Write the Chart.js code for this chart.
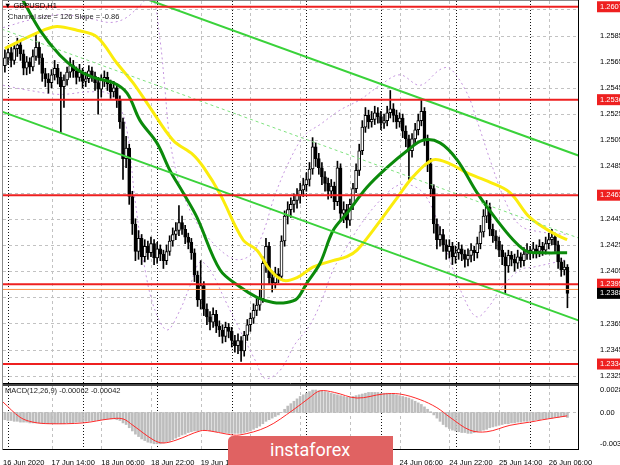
<!DOCTYPE html>
<html>
<head>
<meta charset="utf-8">
<script src="https://cdn.jsdelivr.net/npm/chart.js@4.4.1/dist/chart.umd.min.js"></script>
<style>
html, body { margin: 0; padding: 0; background: #fff; }
#wrap { position: relative; width: 620px; height: 465px; overflow: hidden; font-family: "Liberation Sans", Arial, sans-serif; }
canvas { position: absolute; left: 0; }
#main { top: 0; }
#macd { top: 384px; }
.lbl { position: absolute; font-size: 7.5px; line-height: 9px; color: #000; white-space: nowrap; }
#logo { position: absolute; left: 228px; top: 436px; width: 165px; height: 29px; box-sizing: border-box; padding-left: 42px;
  background: #e06262; border-radius: 5px 0 0 0; color: #fff; font-family: Roboto, sans-serif; font-size: 18px; line-height: 27px; }
</style>
</head>
<body>
<div id="wrap">
  <canvas id="main" width="620" height="384"></canvas>
  <canvas id="macd" width="620" height="81"></canvas>
  <div class="lbl" style="left:4px;top:1px;">▼ GBPUSD,H1</div>
  <div class="lbl" style="left:8px;top:12px;color:#222;">Channel size = 126 Slope = -0.86</div>
  <div class="lbl" style="left:5px;top:386px;color:#222;">MACD(12,26,9) -0.00062 -0.00042</div>
  <div id="logo">instaforex</div>
</div>
<script>
// hourly bars, index 0 = 16 Jun 23:00
const tickIdx = [-0.6, 15, 31, 47, 63, 79, 95, 111, 127, 143, 159, 175];
const tickLabels = ['16 Jun 2020', '17 Jun 14:00', '18 Jun 06:00', '18 Jun 22:00', '19 Jun 14:00', '22 Jun 06:00',
  '22 Jun 22:00', '23 Jun 14:00', '24 Jun 06:00', '24 Jun 22:00', '25 Jun 14:00', '26 Jun 06:00'];
const daySeps = [1, 25, 49, 73, 97, 121, 145, 169];

const opens = [
  1.2562,1.2568,1.2572,1.2566,1.2575,1.2578,1.2571,1.2560,1.2565,1.2561,
  1.2569,1.2576,1.2568,1.2556,1.2552,1.2549,1.2555,1.2560,1.2553,1.2546,
  1.2551,1.2557,1.2562,1.2558,1.2553,1.2557,1.2550,1.2552,1.2558,1.2554,
  1.2549,1.2544,1.2551,1.2553,1.2548,1.2542,1.2545,1.2536,1.2519,1.2491,
  1.2499,1.2462,1.2441,1.2420,1.2430,1.2416,1.2424,1.2419,1.2426,1.2415,
  1.2422,1.2418,1.2413,1.2420,1.2428,1.2433,1.2436,1.2442,1.2437,1.2431,
  1.2427,1.2419,1.2402,1.2383,1.2394,1.2376,1.2370,1.2366,1.2372,1.2363,
  1.2360,1.2355,1.2362,1.2359,1.2352,1.2348,1.2352,1.2344,1.2356,1.2364,
  1.2369,1.2375,1.2379,1.2384,1.2411,1.2424,1.2400,1.2396,1.2403,1.2401,
  1.2428,1.2447,1.2452,1.2456,1.2459,1.2463,1.2467,1.2471,1.2475,1.2483,
  1.2500,1.2491,1.2484,1.2477,1.2472,1.2466,1.2470,1.2458,1.2484,1.2449,
  1.2452,1.2444,1.2456,1.2468,1.2482,1.2497,1.2515,1.2524,1.2519,1.2521,
  1.2526,1.2523,1.2518,1.2520,1.2526,1.2529,1.2524,1.2519,1.2522,1.2512,
  1.2506,1.2497,1.2506,1.2513,1.2520,1.2527,1.2506,1.2487,1.2468,1.2441,
  1.2429,1.2433,1.2425,1.2420,1.2424,1.2416,1.2419,1.2422,1.2418,1.2414,
  1.2417,1.2421,1.2419,1.2426,1.2435,1.2447,1.2454,1.2437,1.2432,1.2428,
  1.2421,1.2416,1.2409,1.2417,1.2414,1.2411,1.2416,1.2413,1.2418,1.2421,
  1.2419,1.2422,1.2420,1.2424,1.2421,1.2426,1.2429,1.2431,1.2425,1.2412,
  1.2406,1.2408
];
const highs = [
  1.2574,1.2577,1.2576,1.2579,1.2583,1.2581,1.2574,1.2569,1.2568,1.2574,
  1.2587,1.2580,1.2571,1.2560,1.2556,1.2559,1.2566,1.2563,1.2557,1.2555,
  1.2561,1.2568,1.2566,1.2561,1.2563,1.2560,1.2557,1.2562,1.2561,1.2557,
  1.2553,1.2555,1.2558,1.2557,1.2551,1.2550,1.2548,1.2539,1.2522,1.2508,
  1.2502,1.2466,1.2445,1.2436,1.2433,1.2429,1.2428,1.2431,1.2429,1.2427,
  1.2425,1.2421,1.2425,1.2432,1.2438,1.2442,1.2455,1.2447,1.2440,1.2434,
  1.2430,1.2422,1.2405,1.2413,1.2397,1.2380,1.2374,1.2377,1.2375,1.2367,
  1.2364,1.2366,1.2365,1.2362,1.2356,1.2357,1.2355,1.2359,1.2368,1.2373,
  1.2380,1.2384,1.2391,1.2416,1.2430,1.2427,1.2405,1.2408,1.2407,1.2432,
  1.2451,1.2458,1.2461,1.2464,1.2468,1.2472,1.2476,1.2480,1.2488,1.2507,
  1.2503,1.2495,1.2488,1.2481,1.2476,1.2475,1.2473,1.2489,1.2487,1.2458,
  1.2456,1.2460,1.2472,1.2487,1.2502,1.2520,1.2530,1.2528,1.2527,1.2531,
  1.2530,1.2527,1.2525,1.2531,1.2543,1.2533,1.2528,1.2526,1.2525,1.2516,
  1.2509,1.2510,1.2518,1.2525,1.2536,1.2530,1.2509,1.2491,1.2471,1.2445,
  1.2439,1.2437,1.2429,1.2429,1.2427,1.2424,1.2427,1.2425,1.2421,1.2422,
  1.2426,1.2424,1.2431,1.2440,1.2452,1.2459,1.2457,1.2441,1.2436,1.2431,
  1.2425,1.2419,1.2421,1.2420,1.2418,1.2421,1.2419,1.2423,1.2426,1.2424,
  1.2427,1.2425,1.2429,1.2427,1.2431,1.2434,1.2437,1.2434,1.2428,1.2415,
  1.2413,1.2410
];
const lows = [
  1.2557,1.2563,1.2561,1.2563,1.2569,1.2566,1.2555,1.2555,1.2556,1.2558,
  1.2566,1.2563,1.2550,1.2546,1.2541,1.2545,1.2551,1.2548,1.2511,1.2530,
  1.2547,1.2553,1.2553,1.2548,1.2550,1.2545,1.2546,1.2549,1.2550,1.2543,
  1.2525,1.2538,1.2546,1.2543,1.2537,1.2538,1.2530,1.2514,1.2475,1.2484,
  1.2456,1.2433,1.2413,1.2414,1.2410,1.2412,1.2414,1.2416,1.2410,1.2411,
  1.2413,1.2407,1.2410,1.2417,1.2424,1.2429,1.2432,1.2433,1.2426,1.2422,
  1.2414,1.2397,1.2378,1.2376,1.2371,1.2364,1.2360,1.2362,1.2358,1.2355,
  1.2350,1.2351,1.2354,1.2347,1.2343,1.2342,1.2336,1.2340,1.2352,1.2359,
  1.2365,1.2371,1.2375,1.2381,1.2404,1.2395,1.2389,1.2392,1.2396,1.2398,
  1.2424,1.2441,1.2446,1.2450,1.2453,1.2457,1.2462,1.2466,1.2470,1.2479,
  1.2485,1.2479,1.2471,1.2466,1.2460,1.2461,1.2452,1.2455,1.2443,1.2442,
  1.2438,1.2440,1.2452,1.2465,1.2478,1.2494,1.2511,1.2514,1.2515,1.2517,
  1.2518,1.2513,1.2514,1.2516,1.2522,1.2519,1.2514,1.2515,1.2507,1.2500,
  1.2475,1.2492,1.2502,1.2509,1.2516,1.2501,1.2481,1.2462,1.2434,1.2422,
  1.2424,1.2420,1.2414,1.2415,1.2410,1.2411,1.2414,1.2413,1.2408,1.2409,
  1.2412,1.2413,1.2415,1.2422,1.2431,1.2442,1.2432,1.2427,1.2422,1.2416,
  1.2410,1.2388,1.2404,1.2409,1.2405,1.2407,1.2408,1.2409,1.2414,1.2414,
  1.2415,1.2415,1.2416,1.2417,1.2418,1.2422,1.2425,1.2420,1.2407,1.2401,
  1.2402,1.2377
];
const closes = [
  1.2568,1.2572,1.2566,1.2575,1.2578,1.2571,1.2560,1.2565,1.2561,1.2569,
  1.2576,1.2568,1.2556,1.2552,1.2549,1.2555,1.2560,1.2553,1.2546,1.2551,
  1.2557,1.2562,1.2558,1.2553,1.2557,1.2550,1.2552,1.2558,1.2554,1.2549,
  1.2544,1.2551,1.2553,1.2548,1.2542,1.2545,1.2536,1.2519,1.2491,1.2499,
  1.2462,1.2441,1.2420,1.2430,1.2416,1.2424,1.2419,1.2426,1.2415,1.2422,
  1.2418,1.2413,1.2420,1.2428,1.2433,1.2436,1.2442,1.2437,1.2431,1.2427,
  1.2419,1.2402,1.2383,1.2394,1.2376,1.2370,1.2366,1.2372,1.2363,1.2360,
  1.2355,1.2362,1.2359,1.2352,1.2348,1.2352,1.2344,1.2356,1.2364,1.2369,
  1.2375,1.2379,1.2384,1.2411,1.2424,1.2400,1.2396,1.2403,1.2401,1.2428,
  1.2447,1.2452,1.2456,1.2459,1.2463,1.2467,1.2471,1.2475,1.2483,1.2500,
  1.2491,1.2484,1.2477,1.2472,1.2466,1.2470,1.2458,1.2484,1.2449,1.2452,
  1.2444,1.2456,1.2468,1.2482,1.2497,1.2515,1.2524,1.2519,1.2521,1.2526,
  1.2523,1.2518,1.2520,1.2526,1.2529,1.2524,1.2519,1.2522,1.2512,1.2506,
  1.2497,1.2506,1.2513,1.2520,1.2527,1.2506,1.2487,1.2468,1.2441,1.2429,
  1.2433,1.2425,1.2420,1.2424,1.2416,1.2419,1.2422,1.2418,1.2414,1.2417,
  1.2421,1.2419,1.2426,1.2435,1.2447,1.2454,1.2437,1.2432,1.2428,1.2421,
  1.2416,1.2409,1.2417,1.2414,1.2411,1.2416,1.2413,1.2418,1.2421,1.2419,
  1.2422,1.2420,1.2424,1.2421,1.2426,1.2429,1.2431,1.2425,1.2412,1.2406,
  1.2408,1.2388
];

// moving averages, read as [bar, price]
const maYellow = [[0,1.2575],[4.9,1.2581],[12.3,1.2589],[16.8,1.2592],[23.2,1.2589],[29.6,1.2584],[36,1.2564],
  [41.2,1.2549],[46.7,1.2530],[54.1,1.2505],[60.5,1.2494],[64,1.2484],[69.2,1.2464],[76.6,1.2429],[81.1,1.2421],
  [85.3,1.2406],[89.5,1.2398],[94,1.2400],[99.1,1.2408],[105.5,1.2413],[110,1.2416],[113.3,1.2421],[118.4,1.2436],
  [126.2,1.2461],[131.3,1.2477],[137.7,1.2490],[143.2,1.2487],[148.7,1.2480],[156,1.2473],[162.5,1.2465],
  [168.9,1.2446],[176.4,1.2434],[180.9,1.2429]];
const maGreen = [[-1,1.2640],[5.8,1.2612],[11.3,1.2589],[17.7,1.2570],[23.2,1.2559],[28.4,1.2553],[34.8,1.2549],
  [39.3,1.2541],[43.5,1.2520],[48.9,1.2503],[53.1,1.2482],[57.3,1.2465],[61.8,1.2446],[69.2,1.2406],[75.6,1.2393],
  [81.1,1.2385],[86.3,1.2381],[90.7,1.2381],[94,1.2384],[97.2,1.2396],[101.4,1.2411],[105.6,1.2436],[110,1.2449],
  [116.5,1.2469],[122.9,1.2484],[129.4,1.2497],[134.5,1.2505],[140,1.2503],[145.5,1.2490],[151.9,1.2465],
  [158.3,1.2444],[163.5,1.2429],[168,1.2420],[173.1,1.2419],[180.9,1.2419]];
const bandUpper = [[-0.6,1.2591],[8.1,1.2597],[17.7,1.2601],[27.4,1.2598],[33.8,1.2595],[38.6,1.2598],[43.5,1.2608],
  [47.3,1.2616],[49.9,1.2582],[51.5,1.2544],[53.1,1.2505],[56.3,1.2471],[61.2,1.2444],[67.6,1.2425],[74,1.2414],
  [78.9,1.2417],[82.7,1.2432],[86.9,1.2463],[91.7,1.2490],[96.5,1.2509],[101.4,1.2517],[107.8,1.2528],[114.3,1.2536],
  [120.7,1.2547],[127.1,1.2555],[133.6,1.2547],[140,1.2559],[143.2,1.2560],[148.7,1.2541],[151.9,1.2520],
  [156.1,1.2490],[160.9,1.2459],[165.7,1.2440],[172.2,1.2435],[180.9,1.2433]];
const bandLower = [[-0.6,1.2547],[8.1,1.2543],[17.7,1.2540],[27.4,1.2542],[33.8,1.2540],[38.6,1.2520],[41.9,1.2459],
  [45.1,1.2406],[48.3,1.2375],[52.2,1.2360],[56.3,1.2375],[59.6,1.2394],[62.8,1.2412],[66,1.2406],[70.8,1.2383],
  [75.6,1.2360],[80.5,1.2337],[83.7,1.2323],[88.5,1.2329],[93.3,1.2349],[98.2,1.2364],[102,1.2383],[105.6,1.2406],
  [109.4,1.2421],[114.3,1.2440],[120.7,1.2459],[127.1,1.2471],[133.6,1.2467],[138.4,1.2448],[143.2,1.2413],
  [148,1.2383],[151.9,1.2370],[156.1,1.2379],[159.3,1.2391],[165.7,1.2406],[169.9,1.2408],[177.6,1.2412],[180.9,1.2414]];

// regression channel end points
const channelBars = [-1, 185];
const channelUpper = [1.26529, 1.24929];
const channelMid = [1.25899, 1.24299];
const channelLower = [1.25269, 1.23669];

const levels = [1.2607, 1.2536, 1.2463, 1.2395, 1.2334];
const orangeLevel = 1.2391;
const bidPrice = 1.2388;
const priceGrid = [1.2325, 1.2345, 1.2365, 1.2385, 1.2405, 1.2425, 1.2445, 1.2465, 1.2485, 1.2505, 1.2525, 1.2545, 1.2565, 1.2585, 1.2605];
const priceLabels = [1.2325, 1.2334, 1.2345, 1.2365, 1.2405, 1.2425, 1.2445, 1.2463, 1.2485, 1.2505, 1.2525, 1.2536, 1.2545, 1.2565, 1.2585, 1.2607, 1.2395, 1.2388];

const macd = [
  -0.0009,-0.0010,-0.0010,-0.0011,-0.0011,-0.0012,-0.0012,-0.0012,-0.0013,
  -0.0013,-0.0013,-0.0013,-0.0014,-0.0014,-0.0014,-0.0014,-0.0014,-0.0014,-0.0014,
  -0.0014,-0.0013,-0.0013,-0.0013,-0.0012,-0.0012,-0.0012,-0.0011,-0.0011,-0.0010,
  -0.0010,-0.0010,-0.0009,-0.0009,-0.0008,-0.0008,-0.0008,-0.0009,
  -0.0010,-0.0013,-0.0015,-0.0019,-0.0023,-0.0027,
  -0.0030,-0.0033,-0.0035,-0.0037,-0.0038,-0.0039,
  -0.0039,-0.0039,-0.0038,-0.0037,-0.0036,-0.0034,-0.0032,
  -0.0030,-0.0028,-0.0027,-0.0025,-0.0024,-0.0023,-0.0023,
  -0.0022,-0.0022,-0.0022,-0.0023,-0.0023,-0.0024,
  -0.0024,-0.0025,-0.0025,-0.0026,-0.0026,-0.0026,-0.0026,-0.0026,
  -0.0025,-0.0024,-0.0023,-0.0021,-0.0019,-0.0017,-0.0014,
  -0.0011,-0.0009,-0.0007,-0.0005,-0.0003,0.0000,
  0.0004,0.0008,0.0011,0.0014,0.0017,0.0020,0.0022,
  0.0024,0.0026,0.0028,0.0028,0.0027,0.0027,0.0026,
  0.0025,0.0024,0.0023,0.0022,0.0021,0.0020,0.0019,
  0.0019,0.0020,0.0021,0.0022,0.0023,0.0024,0.0025,
  0.0025,0.0025,0.0025,0.0024,0.0024,0.0024,0.0023,
  0.0023,0.0022,0.0021,0.0020,0.0019,0.0018,0.0016,
  0.0014,0.0012,0.0010,0.0007,0.0004,0.0001,
  -0.0003,-0.0007,-0.0011,-0.0015,-0.0018,-0.0020,
  -0.0022,-0.0023,-0.0024,-0.0025,-0.0025,-0.0026,-0.0026,
  -0.0025,-0.0024,-0.0023,-0.0022,-0.0021,-0.0019,-0.0018,
  -0.0017,-0.0016,-0.0015,-0.0014,-0.0014,-0.0013,-0.0013,
  -0.0012,-0.0012,-0.0011,-0.0011,-0.0010,-0.0010,-0.0009,
  -0.0009,-0.0008,-0.0008,-0.0007,-0.0007,-0.0006,-0.0006,
  -0.0005,-0.0005,-0.00062
];
const signal = [[-0.6,0.0013],[4.9,-0.0006],[9,-0.0012],[14.5,-0.0014],[25.1,-0.0013],[33.8,-0.0008],[38,-0.0008],
  [41.2,-0.0016],[47.7,-0.0034],[50.9,-0.0038],[55.4,-0.0034],[62.8,-0.0023],[66,-0.0023],[71.5,-0.0027],
  [75.6,-0.0028],[84.3,-0.0018],[92.7,0.0003],[98.2,0.0019],[101.4,0.0027],[106,0.0025],[113.3,0.0018],
  [121.7,0.0023],[127.1,0.0023],[133.6,0.0016],[139,0.0006],[143.2,-0.0006],[149.6,-0.0022],[155.1,-0.0024],
  [162.5,-0.0016],[168.9,-0.0012],[173.1,-0.0009],[180.9,-0.00042]];
const macdTicks = [0.0028, 0, -0.00393];
const macdTickText = ['0.0028', '0.00', '-0.00393'];

const X_MIN = -0.611, X_MAX = 184.4;
const FONT = { family: 'Liberation Sans', size: 7.5 };

const toXY = pts => pts.map(p => ({ x: p[0], y: p[1] }));
function lineSet(pts, color, width, order, extra) {
  return Object.assign({ type: 'line', data: toXY(pts), borderColor: color, borderWidth: width,
    pointRadius: 0, fill: false, tension: 0.35, order: order }, extra || {});
}
function straight(v, color, width) {
  return lineSet([[X_MIN, v], [X_MAX, v]], color, width, 1, { tension: 0 });
}
// keep axes from padding the plot area for their labels
function fitY(s) { s.width = 42; s.paddingTop = 0; s.paddingBottom = 0; }

// grid lines and pane frame drawn with the chart scales
const mtGrid = {
  id: 'mtGrid',
  beforeDatasetsDraw(chart, args, opts) {
    const { ctx, chartArea: a, scales: { x, y } } = chart;
    ctx.save();
    ctx.lineWidth = 1;
    ctx.strokeStyle = '#c2c2c2';
    ctx.setLineDash([3, 3]);
    (opts.hLines || []).forEach(v => {
      const py = Math.round(y.getPixelForValue(v)) + 0.5;
      ctx.beginPath(); ctx.moveTo(a.left, py); ctx.lineTo(a.right, py); ctx.stroke();
    });
    tickIdx.slice(1).forEach(v => {
      const px = Math.round(x.getPixelForValue(v)) + 0.5;
      ctx.beginPath(); ctx.moveTo(px, a.top); ctx.lineTo(px, a.bottom); ctx.stroke();
    });
    ctx.strokeStyle = '#111';
    ctx.setLineDash([1, 2]);
    daySeps.forEach(v => {
      const px = Math.round(x.getPixelForValue(v)) + 0.5;
      ctx.beginPath(); ctx.moveTo(px, a.top); ctx.lineTo(px, a.bottom); ctx.stroke();
    });
    ctx.restore();
  },
  afterDraw(chart, args, opts) {
    const { ctx, chartArea: a } = chart;
    ctx.save();
    ctx.lineWidth = 1;
    ctx.strokeStyle = '#8a8a8a';
    ctx.beginPath(); ctx.moveTo(a.left - 0.5, 0); ctx.lineTo(a.left - 0.5, a.bottom + 1); ctx.stroke();
    ctx.strokeStyle = '#000';
    ctx.beginPath(); ctx.moveTo(a.right + 0.5, 0); ctx.lineTo(a.right + 0.5, a.bottom + 1); ctx.stroke();
    ctx.beginPath(); ctx.moveTo(a.left, a.bottom + 0.5); ctx.lineTo(a.right, a.bottom + 0.5); ctx.stroke();
    ctx.strokeStyle = opts.topColor || '#8a8a8a';
    ctx.lineWidth = opts.topWidth || 1;
    ctx.beginPath(); ctx.moveTo(a.left, a.top - ctx.lineWidth / 2); ctx.lineTo(a.right, a.top - ctx.lineWidth / 2); ctx.stroke();
    ctx.restore();
  }
};

const bodyColors = closes.map((c, i) => c >= opens[i] ? '#ffffff' : '#000000');
const isLevel = v => levels.indexOf(v) >= 0;

new Chart(document.getElementById('main'), {
  type: 'bar',
  data: {
    datasets: [
      ...levels.map(v => straight(v, '#ee2020', 2)),
      straight(orangeLevel, '#ff8c40', 1),
      lineSet([[channelBars[0], channelUpper[0]], [channelBars[1], channelUpper[1]]], '#3ad23a', 2, 1, { tension: 0 }),
      lineSet([[channelBars[0], channelLower[0]], [channelBars[1], channelLower[1]]], '#3ad23a', 2, 1, { tension: 0 }),
      lineSet([[channelBars[0], channelMid[0]], [channelBars[1], channelMid[1]]], '#7fe27f', 1, 1, { tension: 0, borderDash: [3, 3] }),
      lineSet(maGreen, '#0b8a0b', 3, 2),
      lineSet(maYellow, '#fbec0c', 3, 2),
      {
        type: 'bar', order: 3, grouped: false, barThickness: 3,
        data: closes.map((c, i) => ({ x: i, y: [opens[i], c] })),
        backgroundColor: bodyColors, borderColor: '#000', borderWidth: 1, borderSkipped: false
      },
      {
        type: 'bar', order: 4, grouped: false, barThickness: 1,
        data: closes.map((c, i) => ({ x: i, y: [lows[i], highs[i]] })),
        backgroundColor: '#000', borderWidth: 0
      },
      lineSet(bandUpper, '#c596df', 1, 5, { borderDash: [2, 3] }),
      lineSet(bandLower, '#c596df', 1, 5, { borderDash: [2, 3] })
    ]
  },
  options: {
    responsive: false,
    animation: false,
    devicePixelRatio: 1,
    layout: { padding: { left: 3, top: 1, right: 0, bottom: 1 } },
    plugins: { legend: { display: false }, tooltip: { enabled: false }, mtGrid: { hLines: priceGrid } },
    scales: {
      x: { type: 'linear', min: X_MIN, max: X_MAX, offset: false, display: false },
      y: {
        type: 'linear', position: 'right', min: 1.23195, max: 1.26114,
        afterFit: fitY,
        afterBuildTicks: s => { s.ticks = priceLabels.map(v => ({ value: v })); },
        grid: { display: false }, border: { display: false },
        ticks: {
          autoSkip: false, padding: 14, font: FONT,
          color: c => (isLevel(c.tick.value) || c.tick.value === bidPrice) ? '#fff' : '#000',
          showLabelBackdrop: c => isLevel(c.tick.value) || c.tick.value === bidPrice,
          backdropColor: c => c.tick.value === bidPrice ? '#000' : '#ee2020',
          backdropPadding: { top: 1, bottom: 1, left: 3, right: 6 },
          callback: v => v.toFixed(4)
        }
      }
    }
  },
  plugins: [mtGrid]
});

new Chart(document.getElementById('macd'), {
  type: 'bar',
  data: {
    datasets: [
      lineSet(signal, '#ff2a2a', 1, 1),
      { type: 'bar', order: 2, barThickness: 2, data: macd.map((v, i) => ({ x: i, y: v })), backgroundColor: '#bdbdbd' }
    ]
  },
  options: {
    responsive: false,
    animation: false,
    devicePixelRatio: 1,
    layout: { padding: { left: 3, top: 2, right: 0, bottom: 0 } },
    plugins: { legend: { display: false }, tooltip: { enabled: false },
      mtGrid: { hLines: [0], topColor: '#444', topWidth: 2 } },
    scales: {
      x: {
        type: 'linear', min: X_MIN, max: X_MAX, offset: false, position: 'bottom',
        afterFit: s => { s.height = 16; s.paddingLeft = 0; s.paddingRight = 0; },
        afterBuildTicks: s => { s.ticks = tickIdx.map(v => ({ value: v })); },
        grid: { display: false }, border: { display: false },
        ticks: { autoSkip: false, maxRotation: 0, minRotation: 0, align: 'start', padding: 1, font: FONT, color: '#000',
          callback: (v, i) => tickLabels[i] }
      },
      y: {
        type: 'linear', position: 'right', min: -0.00455, max: 0.0033,
        afterFit: fitY,
        afterBuildTicks: s => { s.ticks = macdTicks.map(v => ({ value: v })); },
        grid: { display: false }, border: { display: false },
        ticks: { autoSkip: false, padding: 14, font: FONT, color: '#000', callback: (v, i) => macdTickText[i] }
      }
    }
  },
  plugins: [mtGrid]
});
</script>
</body>
</html>
